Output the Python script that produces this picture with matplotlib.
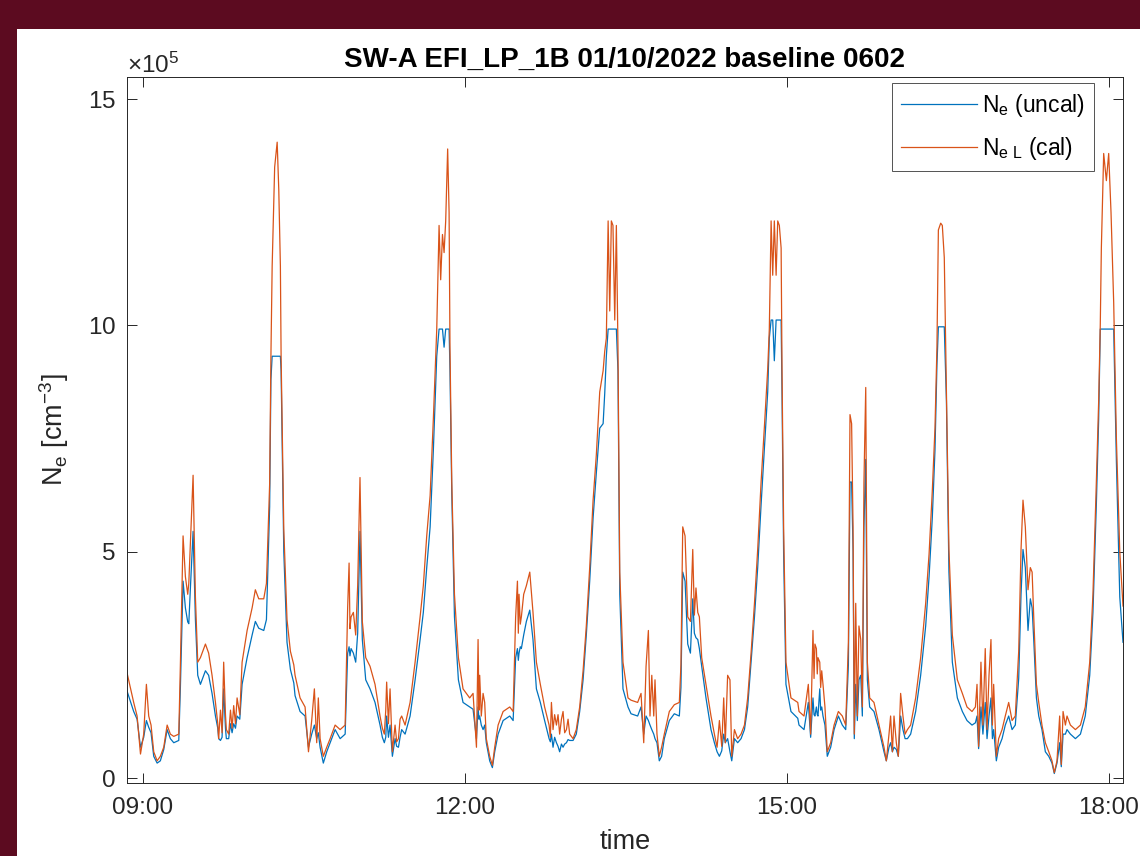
import matplotlib
matplotlib.use("Agg")
import matplotlib.pyplot as plt
import matplotlib.dates as mdates
from matplotlib.patches import Rectangle
import numpy as np
import pandas as pd

# ---------------- data (time in minutes after midnight, density in 1e5 cm^-3) ----------------
t_min = [
    531.1, 534.8, 536.7, 538.6, 540.4, 541.9, 543.2, 544.5, 546.0, 547.9, 549.7, 551.6, 553.5, 555.3, 557.2,
    560.0, 560.9, 562.4, 563.7, 565.0, 565.6, 566.5, 568.0, 569.3, 570.6, 572.1, 574.9, 576.7, 578.6, 580.5,
    581.8, 582.3, 583.3, 584.2, 585.1, 586.1, 586.6, 587.9, 588.9, 589.8, 590.7, 591.7, 592.6, 594.1, 595.4,
    598.2, 601.0, 602.8, 604.7, 607.5, 609.0, 610.8, 611.5, 612.2, 613.6, 615.0, 615.9, 616.8, 617.2, 618.7,
    620.5, 622.4, 624.3,
    625.0, 627.8, 630.6, 632.5, 634.3, 635.8, 637.1, 638.0, 639.0, 640.8, 642.7, 644.6, 647.4, 650.2, 653.0,
    654.4, 655.2, 655.7, 656.3, 657.6, 658.9, 660.0, 661.3, 662.6, 664.5, 666.9, 669.7, 672.5, 673.8, 674.9,
    675.7, 676.2, 677.2, 678.1, 679.4, 680.9, 681.8, 682.8, 683.7, 684.6, 686.5, 689.3, 692.1, 694.9, 696.7,
    698.6, 700.5, 702.3, 704.2, 705.5, 706.4, 707.4, 708.3, 709.2, 710.3, 711.1, 711.6, 712.6, 714.1, 716.3,
    718.9, 722.6, 724.5, 726.4, 727.3, 727.8, 728.2, 729.1, 730.1, 731.0, 731.9, 733.8, 735.3, 736.6, 738.5,
    741.3, 745.0, 746.9, 748.3, 749.3, 749.8, 750.2, 750.9, 751.5, 752.8, 754.3, 756.2, 758.0, 759.9, 762.1,
    764.5, 767.0, 767.7, 768.3, 769.2, 770.1, 771.1, 772.0, 772.9, 773.9, 774.8, 775.7, 776.7, 777.6, 778.5,
    780.4, 782.2, 784.1, 786.0, 787.8, 789.7, 791.6, 793.4, 795.3, 797.2, 798.1, 799.0, 800.0, 800.9, 801.8,
    802.7, 803.7, 804.6, 805.5, 806.5, 808.3, 811.1,
    812.8, 816.5, 818.4, 819.9, 821.2, 822.5, 823.4, 824.4, 825.5, 826.2, 827.3, 828.6, 829.9, 831.4, 834.2,
    837.0, 839.8, 840.7, 841.7, 843.0, 844.5, 846.0, 847.3, 848.2, 849.1, 850.1, 851.0, 852.3, 854.7, 857.5,
    859.4, 860.9, 862.2, 863.5, 864.6, 865.5, 866.8, 868.1, 869.1, 870.6, 872.4, 874.3, 876.2, 878.0, 879.9,
    881.8, 883.6, 885.5, 887.3, 889.2, 890.1, 891.1, 892.0, 892.9, 893.9, 894.8, 895.7, 896.7, 897.2, 898.1,
    899.4, 902.2, 906.0,
    906.7, 909.5, 911.9, 913.2, 914.5, 915.1, 915.6, 916.4, 916.9, 917.3, 918.3, 918.8, 919.4, 920.1, 921.2,
    922.5, 924.4, 926.3, 928.7, 930.9, 932.8, 934.3, 935.2, 936.1, 936.9, 937.6, 938.4, 939.3, 940.2, 941.2,
    942.1, 943.0, 944.0, 944.9, 946.2, 948.6, 951.4, 954.2, 955.5, 957.0, 957.9, 958.9, 959.8, 961.1, 962.2,
    963.5, 964.8, 966.0, 967.3, 969.1, 971.9, 974.7, 977.5, 979.4, 981.2, 982.7, 983.8, 984.6, 985.9, 986.8,
    987.9, 989.1, 990.5, 992.4, 995.2, 998.0,
    1000.6, 1003.4, 1005.3, 1006.2, 1007.1, 1008.4, 1009.5, 1010.8, 1011.8, 1012.9, 1014.0, 1014.8, 1015.5,
    1017.0, 1018.3, 1020.2, 1022.0, 1023.9, 1025.8, 1027.6, 1029.5, 1030.8, 1031.9, 1033.2, 1034.7, 1036.0,
    1037.0, 1037.9, 1039.4, 1040.7, 1042.5, 1044.4, 1046.3, 1048.1, 1049.4, 1050.9, 1052.4, 1053.3, 1054.3,
    1055.6, 1056.5, 1058.4, 1061.2, 1064.0, 1066.7, 1069.2, 1071.0, 1072.9, 1074.2, 1075.1, 1075.7, 1077.0,
    1078.5, 1079.8, 1081.1, 1082.6, 1084.1, 1086.0, 1087.8,
]

ne_cal = [
    2.32, 1.67, 1.37, 0.53, 0.97, 2.07, 1.37, 1.17, 0.58, 0.38, 0.48, 0.68, 1.17, 0.97, 0.92,
    0.97, 2.50, 5.35, 4.45, 4.06, 4.30, 5.20, 6.69, 4.00, 2.56, 2.66, 2.96, 2.76, 2.27, 1.67,
    1.20, 0.87, 1.50, 1.00, 2.56, 1.40, 1.07, 0.97, 1.50, 1.10, 1.60, 1.20, 1.77, 1.40, 2.56,
    3.26, 3.76, 4.16, 3.96, 3.96, 4.30, 6.50, 9.30, 11.31, 13.50, 14.05, 13.00, 11.31, 9.32, 5.50,
    3.50, 2.80, 2.50,
    2.27, 1.77, 1.57, 0.58, 1.27, 1.97, 0.78, 1.77, 0.87, 0.48, 0.68, 0.87, 1.17, 1.07, 1.17,
    3.76, 4.75, 3.30, 3.56, 3.66, 3.16, 4.25, 6.64, 3.46, 2.66, 2.47, 2.07, 1.37, 1.10, 0.97,
    1.50, 2.12, 1.20, 1.97, 0.58, 1.17, 0.80, 0.87, 1.30, 1.37, 1.17, 1.67, 2.56, 3.56, 4.25,
    5.35, 6.24, 7.93, 9.92, 12.21, 11.01, 12.01, 11.61, 12.31, 13.90, 12.50, 9.50, 6.54, 4.06, 2.66,
    1.97, 1.77, 1.87, 0.68, 3.06, 1.50, 2.27, 1.37, 1.87, 1.67, 0.87, 0.48, 0.28, 0.68, 1.17,
    1.47, 1.57, 1.47, 3.56, 4.35, 3.20, 4.06, 3.40, 3.56, 4.06, 4.25, 4.55, 3.66, 2.56, 2.07,
    1.57, 1.17, 0.90, 1.67, 1.07, 1.40, 1.17, 1.40, 0.97, 1.30, 1.47, 1.00, 1.07, 1.30, 0.97,
    0.87, 1.07, 1.57, 2.37, 3.36, 4.65, 6.14, 7.14, 8.53, 9.00, 9.43, 9.72, 12.31, 10.32, 12.31,
    12.21, 10.12, 12.21, 9.50, 4.55, 2.56, 1.77,
    1.72, 1.67, 1.87, 0.78, 2.47, 3.26, 1.37, 2.27, 1.37, 2.17, 0.97, 0.48, 0.68, 0.97, 1.47,
    1.62, 1.67, 2.50, 5.55, 5.35, 3.56, 3.46, 5.05, 3.60, 4.20, 3.66, 3.56, 2.66, 2.07, 1.37,
    0.97, 0.68, 1.27, 0.70, 1.77, 0.78, 2.27, 2.17, 0.48, 1.07, 0.87, 0.97, 1.17, 1.77, 2.76,
    3.86, 5.05, 6.54, 7.73, 9.03, 9.92, 12.31, 11.11, 12.31, 11.11, 12.31, 12.21, 11.71, 9.00, 5.55,
    2.56, 1.77, 1.67,
    1.47, 1.37, 2.07, 0.97, 3.26, 2.20, 2.96, 2.86, 2.30, 2.66, 2.56, 2.00, 2.37, 2.07, 1.57,
    0.58, 0.78, 1.17, 1.47, 1.37, 1.17, 3.00, 8.03, 7.83, 5.55, 0.97, 3.86, 1.37, 3.36, 3.06,
    1.57, 6.54, 8.63, 2.56, 1.77, 1.67, 1.17, 0.68, 0.38, 0.97, 1.37, 0.58, 1.37, 0.78, 0.48,
    1.87, 1.37, 0.97, 1.07, 1.17, 1.77, 2.66, 3.86, 4.95, 6.34, 7.73, 9.52, 12.11, 12.26, 12.21,
    11.50, 8.50, 5.05, 3.16, 2.17, 1.87,
    1.57, 1.47, 1.57, 2.07, 0.70, 2.56, 1.17, 2.86, 1.07, 2.27, 3.06, 1.17, 2.07,
    0.48, 0.87, 1.07, 1.37, 1.67, 1.27, 1.37, 2.80, 5.05, 6.14, 5.55, 4.16, 4.65,
    4.55, 3.56, 2.07, 1.67, 1.17, 0.78, 0.58, 0.38, 0.12, 0.38, 1.37, 0.30, 1.47,
    1.17, 1.37, 1.17, 1.07, 1.17, 1.57, 2.56, 4.06, 6.54, 8.33, 10.02, 11.71, 13.80,
    13.20, 13.80, 12.50, 10.50, 7.50, 5.00, 3.80,
]

ne_uncal = [
    1.92, 1.47, 1.30, 0.68, 0.90, 1.27, 1.12, 1.00, 0.48, 0.33, 0.38, 0.63, 1.07, 0.87, 0.78,
    0.83, 2.00, 4.35, 3.76, 3.45, 3.41, 4.20, 5.45, 3.50, 2.27, 2.07, 2.37, 2.27, 1.87, 1.37,
    1.10, 0.87, 0.83, 0.90, 1.97, 1.10, 0.87, 0.87, 1.20, 1.00, 1.20, 1.10, 1.37, 1.30, 2.07,
    2.66, 3.16, 3.46, 3.31, 3.26, 3.50, 6.00, 8.80, 9.32, 9.32, 9.32, 9.32, 9.32, 9.00, 5.00,
    3.00, 2.40, 2.10,
    1.82, 1.47, 1.37, 0.68, 0.97, 1.17, 0.87, 1.00, 0.68, 0.33, 0.58, 0.78, 1.07, 0.87, 0.97,
    2.76, 2.90, 2.70, 2.86, 2.76, 2.56, 3.20, 5.45, 3.06, 2.17, 1.97, 1.67, 1.17, 0.90, 0.78,
    0.90, 1.37, 0.90, 1.17, 0.48, 0.87, 0.70, 0.68, 0.90, 1.07, 0.97, 1.37, 2.17, 3.06, 3.66,
    4.65, 5.55, 7.24, 9.32, 9.92, 9.92, 9.92, 9.52, 9.92, 9.92, 9.92, 9.00, 6.30, 3.56, 2.17,
    1.67, 1.57, 1.52, 0.87, 1.57, 1.30, 1.37, 1.17, 1.07, 1.17, 0.78, 0.38, 0.23, 0.58, 0.97,
    1.27, 1.37, 1.27, 2.66, 2.86, 2.60, 2.76, 2.90, 2.86, 3.16, 3.46, 3.71, 3.06, 1.97, 1.67,
    1.27, 0.87, 0.80, 0.97, 0.68, 0.90, 0.78, 0.70, 0.58, 0.75, 0.68, 0.75, 0.78, 0.85, 0.83,
    0.83, 0.97, 1.47, 2.17, 3.16, 4.35, 5.75, 6.74, 7.73, 7.83, 8.50, 9.32, 9.92, 9.92, 9.92,
    9.92, 9.92, 9.92, 9.00, 4.06, 1.97, 1.57,
    1.42, 1.37, 1.57, 0.97, 1.37, 1.27, 1.17, 1.07, 0.97, 0.87, 0.78, 0.38, 0.48, 0.87, 1.27,
    1.42, 1.37, 2.00, 4.55, 4.35, 2.96, 2.76, 3.96, 3.20, 3.10, 3.06, 2.86, 2.47, 1.77, 1.07,
    0.78, 0.58, 0.48, 0.60, 0.97, 0.78, 0.87, 0.58, 0.38, 0.87, 0.78, 0.87, 1.07, 1.57, 2.56,
    3.56, 4.65, 6.04, 7.24, 8.53, 9.72, 10.12, 10.12, 9.22, 10.12, 10.12, 10.12, 10.12, 8.50, 4.95,
    2.07, 1.47, 1.32,
    1.17, 1.07, 1.67, 0.90, 1.77, 1.40, 1.37, 1.57, 1.40, 1.37, 1.97, 1.50, 1.57, 1.37, 1.17,
    0.48, 0.68, 1.07, 1.37, 1.17, 1.07, 2.50, 6.54, 6.54, 5.05, 0.87, 2.07, 1.27, 2.17, 2.27,
    1.37, 5.55, 7.04, 2.17, 1.57, 1.47, 1.07, 0.58, 0.38, 0.68, 0.78, 0.58, 0.68, 0.63, 0.48,
    1.37, 1.07, 0.87, 0.87, 0.97, 1.47, 2.27, 3.36, 4.45, 5.75, 7.24, 9.13, 9.97, 9.97, 9.97,
    9.97, 8.33, 4.55, 2.56, 1.77, 1.47,
    1.27, 1.17, 1.22, 1.37, 0.65, 1.57, 0.97, 1.67, 0.87, 1.37, 1.77, 0.87, 1.07,
    0.38, 0.68, 0.87, 1.17, 1.37, 1.07, 1.17, 2.20, 4.06, 5.05, 4.65, 3.26, 3.96,
    3.76, 3.06, 1.77, 1.37, 1.07, 0.58, 0.48, 0.33, 0.10, 0.33, 0.78, 0.25, 0.97,
    0.97, 1.07, 0.97, 0.87, 0.97, 1.37, 2.27, 3.66, 6.04, 7.93, 9.92, 9.92, 9.92,
    9.92, 9.92, 9.92, 9.92, 7.00, 4.00, 3.00,
]

series_labels = [r"N$_{e}$ (uncal)", r"N$_{e\ L}$ (cal)"]
title_text = "SW-A EFI_LP_1B 01/10/2022 baseline 0602"
x_ticks_hours = [9, 12, 15, 18]
y_ticks = [0, 5e5, 10e5, 15e5]

# ---------------- style ----------------
plt.rcParams["font.family"] = ["Liberation Sans", "DejaVu Sans"]
plt.rcParams["mathtext.fontset"] = "custom"
plt.rcParams["mathtext.rm"] = "Liberation Sans"
plt.rcParams["mathtext.it"] = "Liberation Sans:italic"
plt.rcParams["mathtext.bf"] = "Liberation Sans:bold"
plt.rcParams["mathtext.default"] = "regular"

W, H = 1140, 856
fig = plt.figure(figsize=(W / 100, H / 100), dpi=100, facecolor="#5c0b20")
fig.patches.append(Rectangle((17 / W, 0), 1 - 17 / W, (H - 29) / H, transform=fig.transFigure,
                             facecolor="white", edgecolor="none", zorder=-10))

ax = fig.add_axes([127 / W, 1 - 783 / H, 996 / W, 706 / H])
ax.set_zorder(1)

base = pd.Timestamp("2022-10-01")
times = base + pd.to_timedelta(np.array(t_min), unit="m")
scale = 1e5

ax.plot(times, np.array(ne_uncal) * scale, color="#0072BD", lw=0.9, label=series_labels[0])
ax.plot(times, np.array(ne_cal) * scale, color="#D95319", lw=0.9, label=series_labels[1])

ax.set_xlim(base + pd.Timedelta(minutes=531.06), base + pd.Timedelta(minutes=1087.8))
ax.set_ylim(-0.11e5, 15.49e5)

ax.xaxis.set_major_locator(mdates.HourLocator(byhour=x_ticks_hours))
ax.xaxis.set_major_formatter(mdates.DateFormatter("%H:%M"))
ax.set_yticks(y_ticks)
fmt = matplotlib.ticker.ScalarFormatter(useMathText=True)
fmt.set_powerlimits((5, 5))
ax.yaxis.set_major_formatter(fmt)

dark = "#262626"
for s in ax.spines.values():
    s.set_color(dark)
    s.set_linewidth(0.7)
ax.tick_params(axis="both", which="major", direction="in", top=True, right=True,
               length=7, width=0.7, colors=dark, labelsize=17.5)
ax.tick_params(axis="x", pad=10)
ax.tick_params(axis="y", pad=8)
ax.yaxis.get_offset_text().set_fontsize(17.5)
ax.yaxis.get_offset_text().set_color(dark)

ax.set_title(title_text, fontsize=20, fontweight="bold", color="black", pad=7)
ax.set_xlabel("time", fontsize=19.5, color=dark, labelpad=7)
ax.set_ylabel(r"N$_{e}$ [cm$^{-3}$]", fontsize=19.5, color=dark, labelpad=12)

leg = ax.legend(loc="upper right", bbox_to_anchor=(0.971, 0.9915), borderaxespad=0,
                fontsize=16.5, frameon=True, fancybox=False, edgecolor=dark,
                handlelength=3.3, handletextpad=0.22, borderpad=0.4, labelspacing=0.7)
leg.get_frame().set_linewidth(0.7)
for line in leg.get_lines():
    line.set_linewidth(0.9)

fig.savefig("out.png", dpi=100, facecolor=fig.get_facecolor())
